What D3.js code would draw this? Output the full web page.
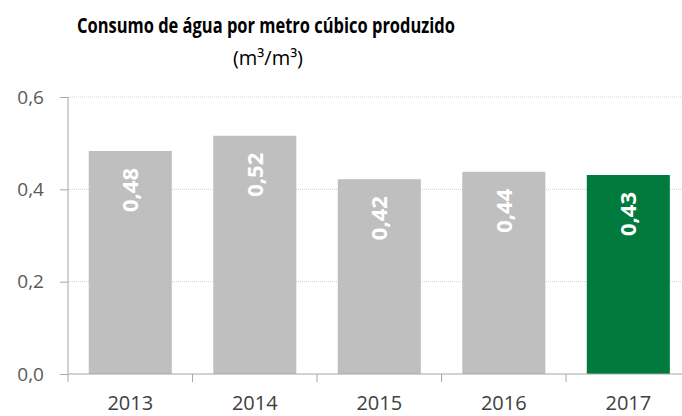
<!DOCTYPE html>
<html>
<head>
<meta charset="utf-8">
<script src="https://cdn.jsdelivr.net/npm/d3@7"></script>
<style>
  body { margin: 0; background: #fff; }
  text { font-family: "Open Sans", sans-serif; }
</style>
</head>
<body>
<div id="chart"></div>
<script>
var years = ["2013", "2014", "2015", "2016", "2017"];
var values = [0.483, 0.516, 0.422, 0.438, 0.431];
var yTicks = [0, 0.2, 0.4, 0.6];
var barColors = ["#bfbfbf", "#bfbfbf", "#bfbfbf", "#bfbfbf", "#007a3d"];

var width = 682;
var height = 416;

var svg = d3.select("#chart")
    .append("svg")
    .attr("width", width)
    .attr("height", height);

var x = d3.scaleBand()
    .domain(years)
    .range([68, 690.6])
    .paddingInner(0.333)
    .paddingOuter(0.1667);

var y = d3.scaleLinear()
    .domain([0, 0.6])
    .range([374, 97]);

var fmt = function (d) { return d3.format(".1f")(d).replace(".", ","); };

// title
svg.append("text")
    .attr("x", 266)
    .attr("y", 33)
    .attr("text-anchor", "middle")
    .attr("textLength", 378)
    .attr("lengthAdjust", "spacingAndGlyphs")
    .style("font-size", "21px")
    .style("font-weight", "bold")
    .style("fill", "#000")
    .text("Consumo de água por metro cúbico produzido");

svg.append("text")
    .attr("x", 268)
    .attr("y", 65)
    .attr("text-anchor", "middle")
    .style("font-size", "20px")
    .style("fill", "#000")
    .text("(m³/m³)");

// gridlines
svg.append("g")
    .selectAll("line")
    .data(yTicks.slice(1))
    .enter()
        .append("line")
        .attr("x1", 68)
        .attr("x2", width)
        .attr("y1", function (d) { return y(d); })
        .attr("y2", function (d) { return y(d); })
        .attr("stroke", "#d0d0d0")
        .attr("stroke-width", 1)
        .attr("stroke-dasharray", "1,1");

// bars
svg.append("g")
    .selectAll("rect")
    .data(values)
    .enter()
        .append("rect")
        .attr("x", function (d, i) { return x(years[i]); })
        .attr("y", function (d) { return y(d); })
        .attr("width", x.bandwidth())
        .attr("height", function (d) { return y(0) - y(d); })
        .attr("fill", function (d, i) { return barColors[i]; });

// value labels
svg.append("g")
    .selectAll("text")
    .data(values)
    .enter()
        .append("text")
        .attr("transform", function (d, i) {
            return "translate(" + (x(years[i]) + x.bandwidth() / 2) + "," + (y(d) + 17) + ") rotate(-90)";
        })
        .attr("text-anchor", "end")
        .attr("dy", "0.36em")
        .style("font-size", "22px")
        .style("font-weight", "bold")
        .style("fill", "#fff")
        .text(function (d) { return d3.format(".2f")(d).replace(".", ","); });

// y axis
var yAxis = d3.axisLeft(y)
    .tickValues(yTicks)
    .tickFormat(fmt)
    .tickSize(8)
    .tickPadding(16);

var gy = svg.append("g")
    .attr("transform", "translate(68,0)")
    .call(yAxis);
gy.select(".domain").remove();
gy.selectAll("line").attr("stroke", "#a6a6a6");
gy.append("line")
    .attr("x1", 0).attr("x2", 0)
    .attr("y1", y(0.6)).attr("y2", y(0))
    .attr("stroke", "#a6a6a6");
gy.selectAll("text")
    .style("font-size", "19px")
    .style("font-family", "Open Sans")
    .style("fill", "#595959");

// x axis
var xAxis = d3.axisBottom(x)
    .tickSize(0)
    .tickPadding(22);

var gx = svg.append("g")
    .attr("transform", "translate(0," + y(0) + ")")
    .call(xAxis);
gx.select(".domain").remove();
gx.append("line")
    .attr("x1", 68).attr("x2", width)
    .attr("y1", 0).attr("y2", 0)
    .attr("stroke", "#a6a6a6");
var step = x.step();
gx.selectAll(".bound")
    .data(years)
    .enter()
        .append("line")
        .attr("class", "bound")
        .attr("x1", function (d) { return x(d) - step * x.paddingInner() / 2; })
        .attr("x2", function (d) { return x(d) - step * x.paddingInner() / 2; })
        .attr("y1", 0)
        .attr("y2", 8)
        .attr("stroke", "#a6a6a6");
gx.selectAll(".tick text")
    .style("font-size", "20px")
    .style("font-family", "Open Sans")
    .style("fill", "#404040");
</script>
</body>
</html>
